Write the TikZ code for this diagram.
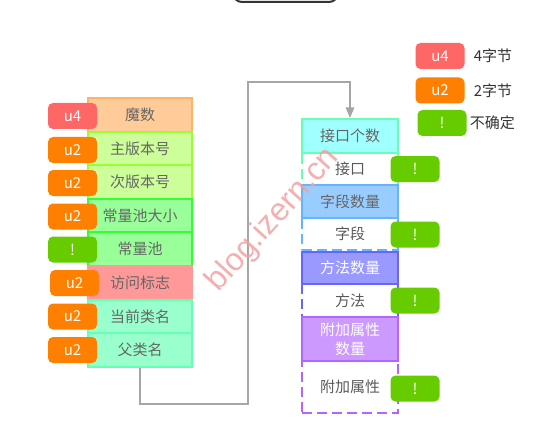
\documentclass[tikz,border=0pt]{standalone}
\usepackage{fontspec}
\setmainfont{Noto Sans CJK SC}
\newfontfamily\wmfont{Liberation Sans}
\usetikzlibrary{shapes,arrows,positioning}
\definecolor{txtgray}{HTML}{666666}
\definecolor{tagred}{HTML}{FF6666}
\definecolor{tagorange}{HTML}{FF8000}
\definecolor{taggreen}{HTML}{66CC00}
\definecolor{conngray}{HTML}{A6A6A6}
\definecolor{wmpink}{HTML}{F4A0A0}

\begin{document}
\begin{tikzpicture}[x=1pt,y=-1pt]
            \useasboundingbox (0,0) rectangle (554,441);
            \begin{scope}
                \clip (0,0) rectangle (554,441);
                \node(title) at (285.5,-14) [draw=black!80, line width=2pt, rounded corners=9pt, minimum width=105pt, minimum height=32pt]{};
            \end{scope}
            \begin{scope}[fld/.style={rectangle, line width=2pt, inner sep=0pt, minimum width=104pt, minimum height=33.6pt, text=txtgray, font=\fontsize{15}{17}\selectfont},
                          opt/.style={fld, dash pattern=on 10pt off 5pt, minimum width=96pt, text=black!65},
                          tag/.style={rectangle, rounded corners=5pt, inner sep=0pt, minimum width=49pt, minimum height=26pt, text=white, font=\fontsize{15}{17}\selectfont}]
                \node(magic) at (140,114.8) [fld, fill={rgb,255:red,255;green,204;blue,153}, draw={rgb,255:red,255;green,179;blue,102}]{魔数};
                \node(major) at (140,148.4) [fld, fill={rgb,255:red,204;green,255;blue,153}, draw={rgb,255:red,153;green,255;blue,51}]{主版本号};
                \node(minor) at (140,182) [fld, fill={rgb,255:red,204;green,255;blue,153}, draw={rgb,255:red,153;green,255;blue,51}]{次版本号};
                \node(cpsize) at (140,215.6) [fld, fill={rgb,255:red,153;green,255;blue,153}, draw={rgb,255:red,51;green,255;blue,51}]{常量池大小};
                \node(cpool) at (140,249.2) [fld, fill={rgb,255:red,153;green,255;blue,153}, draw={rgb,255:red,51;green,255;blue,51}]{常量池};
                \node(access) at (140,282.8) [fld, fill={rgb,255:red,255;green,153;blue,153}, draw={rgb,255:red,255;green,153;blue,153}]{访问标志};
                \node(this) at (140,316.4) [fld, fill={rgb,255:red,153;green,255;blue,204}, draw={rgb,255:red,102;green,255;blue,179}]{当前类名};
                \node(super) at (140,350) [fld, fill={rgb,255:red,153;green,255;blue,204}, draw={rgb,255:red,102;green,255;blue,179}]{父类名};
                %%%
                \node(ifcnt) at (350,136) [fld, minimum width=96pt, minimum height=34pt, fill={rgb,255:red,160;green,255;blue,255}, draw={rgb,255:red,102;green,255;blue,179}]{接口个数};
                \node(ifs) at (350,169) [opt, minimum height=32pt, draw={rgb,255:red,102;green,255;blue,179}]{接口};
                \node(fdcnt) at (350,201.5) [fld, minimum width=96pt, minimum height=33pt, fill={rgb,255:red,153;green,204;blue,255}, draw={rgb,255:red,102;green,179;blue,255}]{字段数量};
                \node(fds) at (350,234) [opt, minimum height=32pt, draw={rgb,255:red,102;green,179;blue,255}]{字段};
                \node(mtcnt) at (350,268) [fld, minimum width=96pt, minimum height=32pt, text=white, fill={rgb,255:red,153;green,153;blue,255}, draw={rgb,255:red,102;green,102;blue,255}]{方法数量};
                \node(mts) at (350,300.5) [opt, minimum height=33pt, draw={rgb,255:red,102;green,102;blue,255}]{方法};
                \node(atcnt) at (350,339) [fld, minimum width=96pt, minimum height=44pt, text=white, align=center, font=\fontsize{15}{19}\selectfont, fill={rgb,255:red,204;green,153;blue,255}, draw={rgb,255:red,179;green,102;blue,255}]{附加属性\\数量};
                \node(ats) at (350,387) [opt, minimum height=52pt, draw={rgb,255:red,179;green,102;blue,255}]{附加属性};
                %%%
                \node(t1) at (72.5,116) [tag, fill=tagred]{u4};
                \node(t2) at (72.5,150) [tag, fill=tagorange]{u2};
                \node(t3) at (72.5,183) [tag, fill=tagorange]{u2};
                \node(t4) at (72.5,216.5) [tag, fill=tagorange]{u2};
                \node(t5) at (72.5,249.5) [tag, fill=taggreen]{!};
                \node(t6) at (74.5,283) [tag, fill=tagorange]{u2};
                \node(t7) at (72.5,316.5) [tag, fill=tagorange]{u2};
                \node(t8) at (72.5,350) [tag, fill=tagorange]{u2};
                \node(t9) at (415,169) [tag, fill=taggreen]{!};
                \node(t10) at (415,234.5) [tag, fill=taggreen]{!};
                \node(t11) at (415,300.5) [tag, fill=taggreen]{!};
                \node(t12) at (415,388.5) [tag, fill=taggreen]{!};
                %%%
                \node(lg4) at (440,56) [tag, fill=tagred]{u4};
                \node(lg2) at (440,90.5) [tag, fill=tagorange]{u2};
                \node(lgx) at (442,123) [tag, fill=taggreen]{!};
                \node(lg4txt) [right=9pt of lg4, text=black!80, font=\fontsize{15}{17}\selectfont, inner sep=0pt]{4字节};
                \node(lg2txt) [right=9pt of lg2, text=black!80, font=\fontsize{15}{17}\selectfont, inner sep=0pt]{2字节};
                \node(lgxtxt) [right=3pt of lgx, text=black!80, font=\fontsize{15}{17}\selectfont, inner sep=0pt]{不确定};
            \end{scope}
            \draw[conngray, line width=1.5pt, -triangle 45] (super.south) |- (248,404) |- (350,82) -- (ifcnt.north);
            \node(wm) at (273,220) [rotate=48, text=wmpink, opacity=0.85, inner sep=0pt, font=\wmfont\fontsize{32}{32}\selectfont]{blog.izern.cn};
        \end{tikzpicture}
\end{document}
